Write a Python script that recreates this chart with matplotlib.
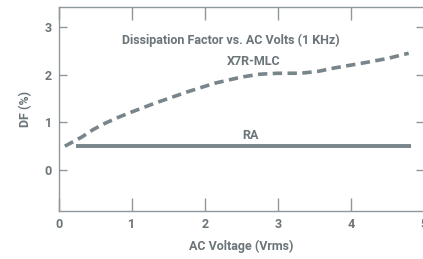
import matplotlib
matplotlib.use("Agg")
import matplotlib.pyplot as plt

# data
volts_x7r = [0.08, 0.31, 0.47, 0.63, 0.82, 1.0, 1.31, 1.76, 2.13, 2.5, 2.75, 3.0, 3.31, 3.55, 3.77, 4.22, 4.5, 4.79]
df_x7r = [0.50, 0.69, 0.85, 0.98, 1.11, 1.22, 1.40, 1.64, 1.82, 1.95, 2.01, 2.03, 2.03, 2.07, 2.14, 2.26, 2.34, 2.45]
volts_ra = [0.23, 4.82]
df_ra = [0.50, 0.50]
xticks = [0, 1, 2, 3, 4, 5]
yticks = [0, 1, 2, 3]

line_col = "#78858b"
text_col = "#6b7479"
spine_col = "#8d979c"

plt.rcParams['font.family'] = ['Roboto', 'DejaVu Sans']

fig = plt.figure(figsize=(4.23, 2.59), dpi=100)
ax = fig.add_axes([59/423, 48/259, 365/423, 204/259])

ax.plot(volts_x7r, df_x7r, color=line_col, lw=2.6, dashes=(2.6, 1.5),
        dash_capstyle='butt')
ax.plot(volts_ra, df_ra, color=line_col, lw=2.8, solid_capstyle='butt')

ax.set_xlim(0, 5)
ax.set_ylim(-0.86, 3.42)
ax.set_xticks(xticks)
ax.set_yticks(yticks)

for s in ['left', 'bottom', 'top', 'right']:
    ax.spines[s].set_color(spine_col)
    ax.spines[s].set_linewidth(1.0)

ax.tick_params(axis='x', direction='in', length=9.5, width=1, color=spine_col,
               top=True, labelcolor=text_col, labelsize=9, pad=5)
ax.tick_params(axis='y', direction='in', length=6, width=1, color=spine_col,
               right=True, labelcolor=text_col, labelsize=9, pad=5)
for lab in ax.get_xticklabels() + ax.get_yticklabels():
    lab.set_fontweight('semibold')

ax.set_xlabel("AC Voltage (Vrms)", color=text_col, fontsize=9, labelpad=6,
              fontweight='semibold')
ax.set_ylabel("DF (%)", color=text_col, fontsize=9, labelpad=9,
              fontweight='semibold')

ax.text(2.35, 2.72, "Dissipation Factor vs. AC Volts (1 KHz)", color=text_col,
        fontsize=9, ha='center', va='center', fontweight='semibold')
ax.text(2.66, 2.27, "X7R-MLC", color=text_col, fontsize=9, ha='center',
        va='center', fontweight='semibold')
ax.text(2.62, 0.72, "RA", color=text_col, fontsize=9, ha='center',
        va='center', fontweight='semibold')

fig.savefig("out.png", dpi=100)
